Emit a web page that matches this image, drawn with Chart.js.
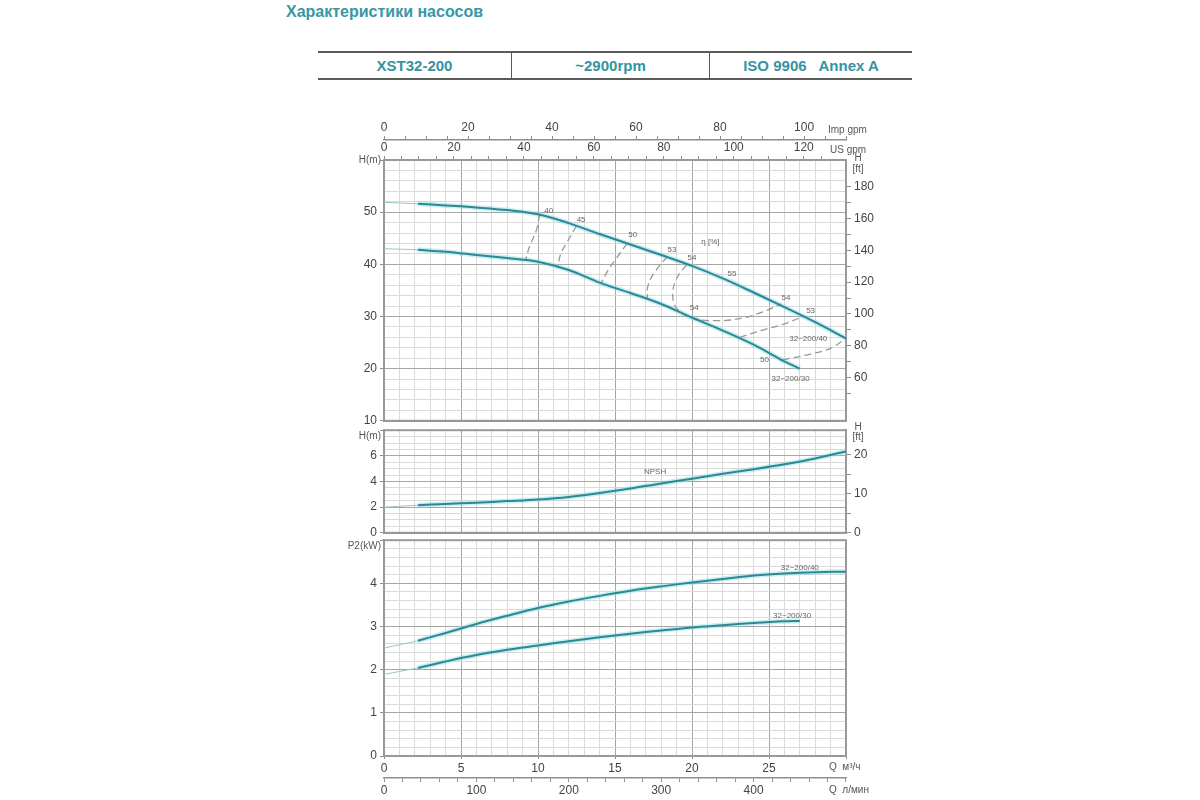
<!DOCTYPE html>
<html lang="ru">
<head>
<meta charset="utf-8">
<title>XST32-200</title>
<script src="https://cdn.jsdelivr.net/npm/chart.js@4.4.1/dist/chart.umd.min.js"></script>
<style>
  html, body { margin: 0; padding: 0; background: #fff; }
  body { position: relative; width: 1200px; height: 800px; overflow: hidden; font-family: "Liberation Sans", Arial, sans-serif; }
  .title { position: absolute; left: 286px; top: 3px; font-weight: bold; font-size: 16px; color: #3996a5; }
  .head { position: absolute; left: 318px; top: 51px; width: 594px; height: 25px; border-top: 2px solid #5a5a5a; border-bottom: 2px solid #5a5a5a; display: flex; }
  .head div { height: 100%; display: flex; align-items: center; justify-content: center; font-weight: bold; font-size: 15px; color: #3593a3; white-space: pre; box-sizing: border-box; }
  .head div + div { border-left: 1px solid #5a5a5a; }
  canvas { position: absolute; }
</style>
</head>
<body>
<div class="title">Характеристики насосов</div>
<div class="head"><div style="width:193px">XST32-200</div><div style="width:198px">~2900rpm</div><div style="width:203px">ISO 9906   Annex A</div></div>
<canvas id="headChart" width="560" height="305"></canvas>
<canvas id="npshChart" width="560" height="110"></canvas>
<canvas id="powerChart" width="560" height="264"></canvas>
<script>
// flow Q, m³/h
const qStart = [0, 2.2];
const qFull = [2.2, 4, 6, 8, 10, 12, 14, 16, 18, 20, 22, 24, 26, 28, 30];
const qShort = [2.2, 4, 6, 8, 10, 12, 14, 16, 18, 20, 22, 24, 26, 27];

// head H, m
const head40Start = [51.9, 51.6];
const head40 = [51.6, 51.3, 50.9, 50.4, 49.6, 47.9, 45.8, 43.8, 41.8, 39.7, 37.3, 34.6, 31.8, 28.9, 25.8];
const head30Start = [43.0, 42.8];
const head30 = [42.8, 42.4, 41.8, 41.2, 40.5, 38.9, 36.5, 34.5, 32.4, 29.8, 27.3, 24.6, 21.4, 20.0];

// efficiency lines (Q, H)
const eta40Q = [10.1, 9.9, 9.45, 9.2];
const eta40H = [49.5, 46.6, 43.4, 40.9];
const eta45Q = [12.5, 11.9, 11.45, 11.3];
const eta45H = [47.4, 44.3, 41.8, 39.3];
const eta50Q = [15.8, 15.1, 14.5, 14.1];
const eta50H = [44.0, 41.2, 38.6, 36.4];
const eta53Q = [18.4, 17.6, 17.15, 17.1];
const eta53H = [41.5, 38.6, 36.0, 33.4];
const eta54Q = [19.65, 19.0, 18.75, 19.0, 19.9, 21.6, 23.3, 24.6, 25.8];
const eta54H = [39.9, 37.3, 34.1, 31.6, 29.8, 29.2, 29.7, 30.9, 32.4];
const eta53bQ = [23.1, 24.6, 26.1, 27.3];
const eta53bH = [26.0, 27.4, 28.7, 30.1];
const eta50bQ = [25.9, 27.7, 29.0, 30];
const eta50bH = [21.7, 22.8, 23.9, 25.8];

// NPSH, m
const npshStart = [2.0, 2.15];
const npsh = [2.15, 2.25, 2.35, 2.47, 2.6, 2.8, 3.1, 3.45, 3.85, 4.22, 4.6, 4.96, 5.35, 5.8, 6.35];

// P2, kW
const p40Start = [2.5, 2.67];
const p40 = [2.67, 2.85, 3.06, 3.25, 3.43, 3.58, 3.71, 3.83, 3.93, 4.02, 4.1, 4.18, 4.23, 4.26, 4.27];
const p30Start = [1.89, 2.04];
const p30 = [2.04, 2.19, 2.34, 2.46, 2.56, 2.66, 2.75, 2.83, 2.91, 2.98, 3.03, 3.08, 3.12, 3.13];

// small texts on the curves: [text, Q, value]
const headNotes = [
  ['40', 10.7, 50.2], ['45', 12.8, 48.5], ['50', 16.15, 45.6], ['53', 18.7, 42.8], ['54', 20.0, 41.2],
  ['η [%]', 21.2, 44.4], ['55', 22.6, 38.2], ['54', 26.1, 33.5], ['53', 27.7, 31.1], ['54', 20.15, 31.6],
  ['50', 24.7, 21.6], ['32~200/40', 27.55, 25.7], ['32~200/30', 26.4, 18.0]
];
const npshNotes = [['NPSH', 17.6, 4.73]];
const powerNotes = [['32~200/40', 27.0, 4.37], ['32~200/30', 26.5, 3.26]];

const Q_MAX = 30, FT = 3.2808, USG = 4.4029, IMPG = 3.6662, LPM = 16.6667;
const CURVE = '#2a8a93', GLOW = 'rgba(140,215,228,0.45)', THIN = '#9cc3c7', ETA = '#999';
const MINOR = '#dadada', MAJOR = '#a6a6a6', AXIS = '#8e8e8e', TXT = '#444';
const tickFont = { family: '"Liberation Sans", Arial, sans-serif', size: 12 };

function isMult(v, n, tol) { return Math.abs(v / n - Math.round(v / n)) < (tol || 1e-6); }

// keep only ticks on whole steps (Chart.js may stretch the step to fit min/max)
function snapTicks(step) {
  return s => {
    s.ticks = s.ticks.filter(t => isMult(t.value, step, 0.01))
      .map(t => ({ value: Math.round(t.value / step) * step }));
  };
}

function line(xs, ys, color, width, extra) {
  return Object.assign({
    data: xs.map((x, i) => ({ x: x, y: ys[i] })),
    showLine: true, borderColor: color, borderWidth: width, pointRadius: 0, tension: 0.35, fill: false
  }, extra || {});
}
function pump(xs, ys) { return [line(xs, ys, CURVE, 2), line(xs, ys, GLOW, 5, { order: 1 })]; }
function thin(xs, ys) { return line(xs, ys, THIN, 1); }
function eta(xs, ys) { return line(xs, ys, ETA, 1.3, { borderDash: [7, 4], tension: 0.4 }); }

function qAxis(labels) {
  return {
    type: 'linear', position: 'bottom', min: 0, max: Q_MAX, weight: 0,
    ticks: { display: labels, stepSize: 1, autoSkip: false, maxRotation: 0, padding: 2, color: TXT, font: tickFont,
      callback: v => (isMult(v, 5) && v < Q_MAX ? String(v) : '') },
    grid: { color: c => (isMult(c.tick.value, 5) ? MAJOR : MINOR), drawTicks: labels, tickLength: 3,
      tickColor: c => (isMult(c.tick.value, 5) ? AXIS : 'rgba(0,0,0,0)') },
    border: { color: AXIS, width: 2 },
    afterFit: s => { s.height = labels ? 22 : 0; }
  };
}

function valueAxis(min, max, step, major) {
  return {
    type: 'linear', position: 'left', min: min, max: max,
    ticks: { stepSize: step, autoSkip: false, padding: 3, color: TXT, font: tickFont,
      callback: v => (isMult(v, major) && v < max - 1e-6 ? String(Math.round(v)) : '') },
    grid: { color: c => (isMult(c.tick.value, major) ? MAJOR : MINOR), tickLength: 4,
      tickColor: c => (isMult(c.tick.value, major) ? AXIS : 'rgba(0,0,0,0)') },
    border: { color: AXIS, width: 2 },
    afterFit: s => { s.width = 54; }
  };
}

function ftAxis(maxM, minM, step, every) {
  return {
    type: 'linear', position: 'right', min: minM * FT, max: maxM * FT,
    afterBuildTicks: snapTicks(step),
    ticks: { stepSize: step, autoSkip: false, padding: 3, color: TXT, font: tickFont,
      callback: v => (isMult(v, every) ? String(Math.round(v)) : '') },
    grid: { drawOnChartArea: false, tickLength: 5, color: AXIS },
    border: { color: AXIS, width: 2 },
    afterFit: s => { s.width = 44; }
  };
}

function unitAxis(position, factor, step, every, weight) {
  return {
    type: 'linear', position: position, min: 0, max: Q_MAX * factor, weight: weight,
    afterBuildTicks: snapTicks(step),
    ticks: { stepSize: step, autoSkip: false, maxRotation: 0, padding: 1, color: TXT, font: tickFont,
      callback: v => (isMult(v, every) && v < Q_MAX * factor - step ? String(Math.round(v)) : '') },
    grid: { drawOnChartArea: false, tickLength: 4, color: AXIS },
    border: { color: AXIS, width: 1.5 },
    afterFit: s => { s.height = position === 'top' ? 20 : 22; }
  };
}

function options(scales, notes, padRight) {
  return {
    responsive: false, maintainAspectRatio: false, animation: false, events: [],
    layout: { padding: { right: padRight || 0 } },
    plugins: { legend: { display: false }, tooltip: { enabled: false }, notes: notes },
    scales: scales
  };
}

// frame round the plot and the small texts
const notesPlugin = {
  id: 'notes',
  beforeDatasetsDraw(chart) {
    const { ctx, chartArea: a } = chart;
    ctx.save();
    ctx.strokeStyle = '#999';
    ctx.lineWidth = 2;
    ctx.strokeRect(a.left, a.top, a.right - a.left, a.bottom - a.top);
    ctx.restore();
  },
  afterDraw(chart, args, opts) {
    const { ctx, chartArea: a, scales } = chart;
    ctx.save();
    ctx.textBaseline = 'middle';
    ctx.textAlign = 'center';
    ctx.fillStyle = '#666';
    ctx.font = '8px "Liberation Sans", Arial, sans-serif';
    (opts.items || []).forEach(n => {
      ctx.fillText(n[0], scales.x.getPixelForValue(n[1]), scales.y.getPixelForValue(n[2]));
    });
    ctx.fillStyle = '#555';
    ctx.font = '10px "Liberation Sans", Arial, sans-serif';
    (opts.names || []).forEach(n => {
      ctx.textAlign = n[5];
      const x = (n[1] === 'L' ? a.left : a.right) + n[2];
      const y = (n[3] === 'T' ? a.top : a.bottom) + n[4];
      ctx.fillText(n[0], x, y);
    });
    ctx.restore();
  }
};
Chart.register(notesPlugin);

function place(chart, x, y, w, h) {
  for (let k = 0; k < 4; k++) {
    const a = chart.chartArea;
    const nw = Math.round(chart.width + w - (a.right - a.left));
    const nh = Math.round(chart.height + h - (a.bottom - a.top));
    if (nw === chart.width && nh === chart.height) break;
    chart.resize(nw, nh);
    chart.update('none');
  }
  const a = chart.chartArea;
  chart.canvas.style.left = Math.round(x - a.left) + 'px';
  chart.canvas.style.top = Math.round(y - a.top) + 'px';
}

const headChart = new Chart(document.getElementById('headChart'), {
  type: 'scatter',
  data: { datasets: [
    thin(qStart, head40Start), ...pump(qFull, head40),
    thin(qStart, head30Start), ...pump(qShort, head30),
    eta(eta40Q, eta40H), eta(eta45Q, eta45H), eta(eta50Q, eta50H), eta(eta53Q, eta53H),
    eta(eta54Q, eta54H), eta(eta53bQ, eta53bH), eta(eta50bQ, eta50bH)
  ] },
  options: options({
    x: qAxis(false),
    y: valueAxis(10, 60, 2, 10),
    yft: ftAxis(60, 10, 10, 20),
    xus: unitAxis('top', USG, 5, 20, 1),
    ximp: unitAxis('top', IMPG, 5, 20, 2)
  }, {
    items: headNotes,
    names: [
      ['H(m)', 'L', -3, 'T', 0, 'right'], ['H', 'R', 12, 'T', -2, 'center'], ['[ft]', 'R', 12, 'T', 9, 'center'],
      ['Imp gpm', 'R', -18, 'T', -30, 'left'], ['US gpm', 'R', -16, 'T', -10, 'left']
    ]
  })
});
place(headChart, 384, 160, 462, 261);

const npshChart = new Chart(document.getElementById('npshChart'), {
  type: 'scatter',
  data: { datasets: [thin(qStart, npshStart), ...pump(qFull, npsh)] },
  options: options({
    x: qAxis(false),
    y: valueAxis(0, 8, 0.5, 2),
    yft: ftAxis(8, 0, 5, 10)
  }, {
    items: npshNotes,
    names: [['H(m)', 'L', -3, 'T', 6, 'right'], ['H', 'R', 12, 'T', -3, 'center'], ['[ft]', 'R', 12, 'T', 7, 'center']]
  })
});
place(npshChart, 384, 430, 462, 103);

const powerChart = new Chart(document.getElementById('powerChart'), {
  type: 'scatter',
  data: { datasets: [
    thin(qStart, p40Start), ...pump(qFull, p40),
    thin(qStart, p30Start), ...pump(qShort, p30)
  ] },
  options: options({
    x: qAxis(true),
    xl: unitAxis('bottom', LPM, 20, 100, 1),
    y: valueAxis(0, 5, 0.2, 1)
  }, {
    items: powerNotes,
    names: [['P2(kW)', 'L', -3, 'T', 6, 'right'], ['Q  м³/ч', 'R', -17, 'B', 11, 'left'], ['Q  л/мин', 'R', -17, 'B', 34, 'left']]
  }, 44)
});
place(powerChart, 384, 540, 462, 216);
</script>
</body>
</html>
